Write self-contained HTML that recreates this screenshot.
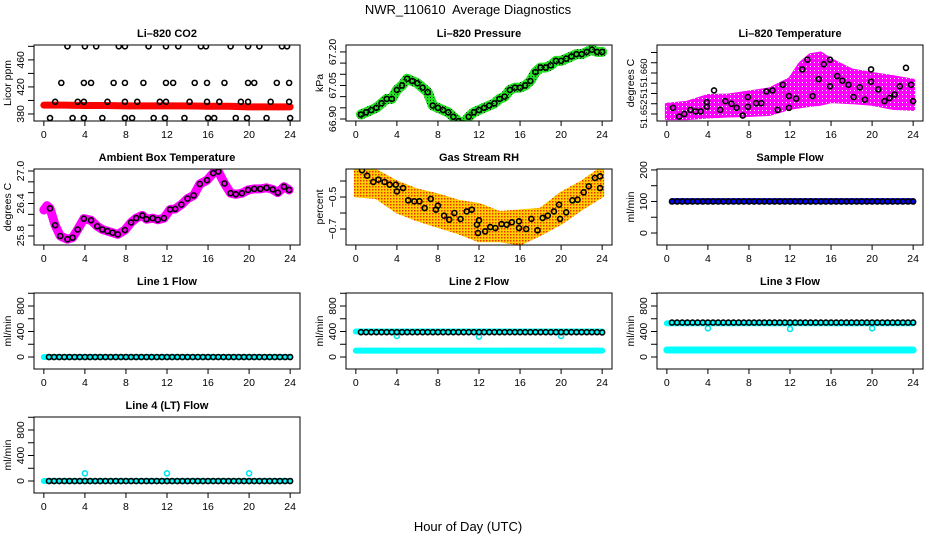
<!DOCTYPE html>
<html><head><meta charset="utf-8"><style>
html,body{margin:0;padding:0;background:#fff}
svg{display:block;font-family:"Liberation Sans",Arial,sans-serif}
</style></head><body>
<svg id="chart" width="936" height="540" viewBox="0 0 936 540" xmlns="http://www.w3.org/2000/svg">
<defs>
<pattern id="rhpat" width="3" height="3" patternUnits="userSpaceOnUse"><rect width="3" height="3" fill="#ffd000"/><rect x="0" y="0" width="1.5" height="1.5" fill="#f03000"/></pattern>
<pattern id="grpat" width="3" height="3" patternUnits="userSpaceOnUse"><rect width="3" height="3" fill="#22e022"/><rect x="1" y="1" width="1" height="1" fill="#003300"/></pattern>
<pattern id="mgpat" width="4" height="4" patternUnits="userSpaceOnUse"><rect width="4" height="4" fill="#ff00ff"/><rect x="2" y="2" width="1" height="1" fill="#ffffff"/></pattern>
</defs>
<text x="468" y="14" text-anchor="middle" font-size="13">NWR_110610&#160; Average Diagnostics</text>
<text x="468" y="531" text-anchor="middle" font-size="13">Hour of Day (UTC)</text>
</svg>
<script>
// ---- data ----
const halfHours=[0.5,1,1.5,2,2.5,3,3.5,4,4.5,5,5.5,6,6.5,7,7.5,8,8.5,9,9.5,10,10.5,11,11.5,12,12.5,13,13.5,14,14.5,15,15.5,16,16.5,17,17.5,18,18.5,19,19.5,20,20.5,21,21.5,22,22.5,23,23.5,24];
const xTicks=[0,4,8,12,16,20,24];
// CO2
const co2BandHours=[0,2,4,6,8,10,12,14,16,18,20,22,24];
const co2BandVals=[393,393,392.5,392.5,392,392,392,392,391.5,391.5,390.5,390.5,390.5];
const co2H480=[2.3,4.0,5.1,7.3,7.9,10.2,11.9,13.1,15.3,15.8,18.2,19.9,21.0,23.2,23.7];
const co2H426=[1.7,3.9,4.6,6.8,7.9,9.7,11.9,12.6,14.7,15.9,17.6,19.9,20.5,22.7,23.9];
const co2H398=[1.1,3.3,3.9,6.2,7.9,9.1,11.3,11.9,14.2,15.9,17.1,19.2,19.9,22.1,23.9];
const co2H374=[0.6,2.8,3.9,5.7,7.9,8.6,10.7,11.8,13.7,16.0,16.6,18.7,19.8,21.7,24.0];
const co2Levels=[480,426,398,374];
// Pressure
const presVals=[66.92,66.93,66.94,66.95,66.97,66.99,66.99,67.03,67.05,67.08,67.07,67.06,67.04,67.02,66.96,66.95,66.94,66.93,66.91,66.89,66.88,66.91,66.93,66.94,66.95,66.96,66.97,66.99,67.00,67.03,67.04,67.04,67.05,67.07,67.11,67.13,67.13,67.14,67.16,67.16,67.17,67.18,67.19,67.19,67.20,67.21,67.20,67.20];
// Li-820 temperature
const tempHours=[0.6,1.2,1.7,2.3,2.8,3.3,3.9,3.9,4.6,5.2,5.7,6.3,6.8,7.4,7.9,7.9,8.7,9.2,9.7,10.3,10.8,11.3,11.9,11.9,12.6,13.2,13.7,14.2,14.8,15.3,15.9,15.9,16.6,17.1,17.7,18.2,18.8,19.3,19.9,19.9,20.6,21.2,21.7,22.2,22.7,23.3,23.8,24];
const tempVals=[51.6532,51.6515,51.652,51.6528,51.6525,51.6525,51.6534,51.6543,51.6566,51.6528,51.6545,51.654,51.6532,51.6517,51.6553,51.6534,51.6541,51.6541,51.6564,51.6566,51.6528,51.6577,51.6555,51.6532,51.655,51.6607,51.6626,51.6555,51.6588,51.6617,51.6626,51.6574,51.6594,51.6585,51.6577,51.6553,51.6572,51.6548,51.6583,51.6607,51.6568,51.6545,51.6551,51.6558,51.6574,51.661,51.6577,51.6545];
const tempCloudHours=[0,2,4,6,8,10,12,13,14,15,16,18,20,22,24];
const tempCloudLo=[51.6512,51.6512,51.6515,51.6517,51.6518,51.652,51.6532,51.6535,51.6538,51.654,51.6545,51.6543,51.654,51.6532,51.653];
const tempCloudHi=[51.6538,51.6542,51.6555,51.6556,51.6562,51.6568,51.6588,51.6618,51.6635,51.6638,51.6625,51.6605,51.6598,51.6592,51.6585];
// Ambient box temperature
const ambHours=[0,0.3,0.6,1.1,1.6,2.3,2.8,3.3,3.9,4.6,5.2,5.7,6.2,6.7,7.2,7.9,8.5,9.0,9.6,10,10.6,11.1,11.7,12.3,12.8,13.4,14,14.6,15.2,15.9,16.5,17,17.6,18.2,18.7,19.3,19.9,20.5,21.1,21.7,22.3,22.8,23.4,23.9];
const ambVals=[26.28,26.36,26.31,26.0,25.8,25.74,25.77,25.92,26.12,26.09,25.98,25.92,25.89,25.86,25.83,25.91,26.05,26.13,26.18,26.11,26.13,26.1,26.13,26.29,26.3,26.38,26.49,26.55,26.76,26.83,26.96,26.99,26.77,26.59,26.57,26.59,26.65,26.67,26.67,26.69,26.66,26.6,26.71,26.65];
// Gas stream RH
const rhHours=[0.6,1.1,1.7,2.2,2.8,3.3,3.9,4.0,4.6,5.1,5.7,6.2,6.7,7.3,7.8,8,8.6,9.1,9.6,10.2,10.8,11.3,11.8,12,11.9,12.6,13.1,13.6,14.2,14.7,15.2,15.9,15.9,16.6,17.1,17.7,18.2,18.7,19.3,19.8,19.9,20.5,21.1,21.6,22.2,22.7,23.3,23.8,23.8];
const rhVals=[-0.333,-0.367,-0.406,-0.392,-0.406,-0.423,-0.423,-0.465,-0.444,-0.521,-0.527,-0.527,-0.569,-0.512,-0.579,-0.554,-0.617,-0.642,-0.6,-0.638,-0.59,-0.579,-0.673,-0.646,-0.725,-0.715,-0.688,-0.694,-0.669,-0.673,-0.658,-0.652,-0.694,-0.7,-0.637,-0.708,-0.631,-0.617,-0.59,-0.548,-0.637,-0.596,-0.521,-0.517,-0.471,-0.433,-0.381,-0.371,-0.444];
const rhCloudHours=[0,2,4,6,8,10,12,14,16,18,20,22,24];
const rhCloudLo=[-0.49,-0.5,-0.59,-0.64,-0.68,-0.72,-0.77,-0.77,-0.79,-0.73,-0.66,-0.57,-0.49];
const rhCloudHi=[-0.32,-0.34,-0.41,-0.46,-0.49,-0.53,-0.55,-0.6,-0.59,-0.58,-0.48,-0.41,-0.32];
// Flows
const sampleFlowBlack=[100,100,100,100,100,100,100,100,100,100,100,100,100,100,100,100,100,100,100,100,100,100,100,100,100,100,100,100,100,100,100,100,100,100,100,100,100,100,100,100,100,100,100,100,100,100,100,100];
const sampleFlowBlue=[101,101,101,101,101,101,101,101,101,101,101,101,101,101,101,101,101,101,101,101,101,101,101,101,101,101,101,101,101,101,101,101,101,101,101,101,101,101,101,101,101,101,101,101,101,101,101,101];
const line1Black=[0,0,0,0,0,0,0,0,0,0,0,0,0,0,0,0,0,0,0,0,0,0,0,0,0,0,0,0,0,0,0,0,0,0,0,0,0,0,0,0,0,0,0,0,0,0,0,0];
const line1Cyan=[0,0,0,0,0,0,0,0,0,0,0,0,0,0,0,0,0,0,0,0,0,0,0,0,0,0,0,0,0,0,0,0,0,0,0,0,0,0,0,0,0,0,0,0,0,0,0,0];
const line2Black=[390,390,390,390,390,390,390,390,390,390,390,390,390,390,390,390,390,390,390,390,390,390,390,390,390,390,390,390,390,390,390,390,390,390,390,390,390,390,390,390,390,390,390,390,390,390,390,385];
const line2CyanHigh=[400,400,400,400,400,400,400,400,400,400,400,400,400,400,400,400,400,400,400,400,400,400,400,400,400,400,400,400,400,400,400,400,400,400,400,400,400,400,400,400,400,400,400,400,400,400,400,400];
const line2CyanLow=[100,100,100,100,100,100,100,100,100,100,100,100,100,100,100,100,100,100,100,100,100,100,100,100,100,100,100,100,100,100,100,100,100,100,100,100,100,100,100,100,100,100,100,100,100,100,100,100];
const line3Black=[540,540,540,540,540,540,540,540,540,540,540,540,540,540,540,540,540,540,540,540,540,540,540,540,540,540,540,540,540,540,540,540,540,540,540,540,540,540,540,540,540,540,540,540,540,540,540,540];
const line3CyanHigh=[530,530,530,530,530,530,530,530,530,530,530,530,530,530,530,530,530,530,530,530,530,530,530,530,530,530,530,530,530,530,530,530,530,530,530,530,530,530,530,530,530,530,530,530,530,530,530,530];
const line3CyanLow=[110,110,110,110,110,110,110,110,110,110,110,110,110,110,110,110,110,110,110,110,110,110,110,110,110,110,110,110,110,110,110,110,110,110,110,110,110,110,110,110,110,110,110,110,110,110,110,110];
const line4Black=[0,0,0,0,0,0,0,0,0,0,0,0,0,0,0,0,0,0,0,0,0,0,0,0,0,0,0,0,0,0,0,0,0,0,0,0,0,0,0,0,0,0,0,0,0,0,0,0];
const line4Cyan=[0,0,0,0,0,0,0,0,0,0,0,0,0,0,0,0,0,0,0,0,0,0,0,0,0,0,0,0,0,0,0,0,0,0,0,0,0,0,0,0,0,0,0,0,0,0,0,0];
const outlierHours=[4,12,20];
const line2Outliers=[330,320,330];
const line3Outliers=[450,440,450];
const line4Outliers=[120,120,120];

// ---- drawing ----
const svg=document.getElementById('chart');
const NS='http://www.w3.org/2000/svg';
function mk(tag,attrs,parent){const e=document.createElementNS(NS,tag);for(const k in attrs)e.setAttribute(k,attrs[k]);(parent||svg).appendChild(e);return e;}

function panel(o){
  const g=mk('g',{});
  
  
  const L=o.x,T=o.y,W=266,H=76;
  const sx=h=>L+(h+0.96)/25.92*W;
  const sy=v=>T+(o.ymax-v)/(o.ymax-o.ymin)*H;
  const clip='clip-'+o.name;
  const cp=mk('clipPath',{id:clip},g);mk('rect',{x:L,y:T,width:W,height:H},cp);
  const plot=mk('g',{'clip-path':'url(#'+clip+')'},g);
  
  
  o.draw(plot,sx,sy);
  const box=mk('rect',{x:L,y:T,width:W,height:H,fill:'none',stroke:'#000','stroke-width':1},g);
  
  
  const title=mk('text',{x:L+W/2,y:T-8,'text-anchor':'middle','font-size':11,'font-weight':'bold'},g);
  title.textContent=o.title;
  
  
  xTicks.forEach(t=>{
    const x=sx(t);
    mk('line',{x1:x,x2:x,y1:T+H,y2:T+H+5,stroke:'#000'},g);
    const tl=mk('text',{x:x,y:T+H+17,'text-anchor':'middle','font-size':10.5},g);
    tl.textContent=t;
    
    
  });
  o.yticks.forEach(t=>{
    const y=sy(t);
    mk('line',{x1:L-6,x2:L,y1:y,y2:y,stroke:'#000'},g);
  });
  const fs=o.yfont||10.5;
  o.ylabels.forEach((t,i)=>{
    const y=sy(t);
    const yl=mk('text',{x:L-10,y:y,'text-anchor':'middle','font-size':fs,transform:'rotate(-90 '+(L-10)+' '+y+')'},g);
    yl.textContent=o.ylabelText?o.ylabelText[i]:t;
    
    
  });
  const yt=mk('text',{x:L-23,y:T+H/2,'text-anchor':'middle','font-size':10.5,transform:'rotate(-90 '+(L-23)+' '+(T+H/2)+')'},g);
  yt.textContent=o.ytitle;
  
  
}
function band(p,hs,vs,sx,sy,color,w,name){
  const pl=mk('polyline',{points:hs.map((h,i)=>sx(h)+','+sy(vs[i])).join(' '),fill:'none',stroke:color,'stroke-width':w,'stroke-linecap':'round','stroke-linejoin':'round'},p);
  
  
}
function area(p,hs,lo,hi,sx,sy,fill,name){
  const pts=hs.map((h,i)=>sx(h)+','+sy(hi[i])).concat(hs.slice().reverse().map((h,j)=>sx(h)+','+sy(lo[hs.length-1-j])));
  const pg=mk('polygon',{points:pts.join(' '),fill:fill,stroke:fill,'stroke-width':4,'stroke-linejoin':'round'},p);
  
  
}
function pts(p,hs,vs,sx,sy,color,name){
  hs.forEach((h,i)=>{
    const c=mk('circle',{cx:sx(h),cy:sy(vs[i]),r:2.5,fill:'none',stroke:color,'stroke-width':1.6},p);
    
    
  });
}
const colX=[34,346,657], rowY=[45,169,293,417];
const flowTicks=[0,200,400,600,800,1000], flowLabels=[0,400,800];

panel({name:'co2-panel',title:'Li\u2013820 CO2',x:colX[0],y:rowY[0],ymin:369.6,ymax:482,yticks:[380,400,420,440,460,480],ylabels:[380,420,460],ytitle:'Licor ppm',
  draw:(p,sx,sy)=>{band(p,co2BandHours,co2BandVals,sx,sy,'#ff0000',7,'co2-band');
    [co2H480,co2H426,co2H398,co2H374].forEach((hs,k)=>pts(p,hs,hs.map(()=>co2Levels[k]),sx,sy,'#000','co2-point'));}});
panel({name:'pressure-panel',title:'Li\u2013820 Pressure',x:colX[1],y:rowY[0],ymin:66.891,ymax:67.231,yticks:[66.90,66.95,67.00,67.05,67.10,67.15,67.20],ylabels:[66.90,67.05,67.20],ylabelText:['66.90','67.05','67.20'],ytitle:'kPa',
  draw:(p,sx,sy)=>{band(p,halfHours,presVals,sx,sy,'url(#grpat)',10,'pressure-band');pts(p,halfHours,presVals,sx,sy,'#000','pressure-point');}});
panel({name:'li820-temperature-panel',title:'Li\u2013820 Temperature',x:colX[2],y:rowY[0],ymin:51.65063,ymax:51.66546,yticks:[51.652,51.654,51.656,51.658,51.660,51.662,51.664],ylabels:[51.652,51.656,51.660],ylabelText:['51.652','51','51.660'],ytitle:'degrees C',yfont:9.5,
  draw:(p,sx,sy)=>{area(p,tempCloudHours,tempCloudLo,tempCloudHi,sx,sy,'url(#mgpat)','temperature-cloud');pts(p,tempHours,tempVals,sx,sy,'#000','temperature-point');}});
panel({name:'ambient-temperature-panel',title:'Ambient Box Temperature',x:colX[0],y:rowY[1],ymin:25.634,ymax:27.037,yticks:[25.8,26.0,26.2,26.4,26.6,26.8,27.0],ylabels:[25.8,26.4,27.0],ylabelText:['25.8','26.4','27.0'],ytitle:'degrees C',
  draw:(p,sx,sy)=>{band(p,ambHours,ambVals,sx,sy,'#ff00ff',9,'ambient-band');pts(p,ambHours.slice(2),ambVals.slice(2),sx,sy,'#000','ambient-point');}});
panel({name:'rh-panel',title:'Gas Stream RH',x:colX[1],y:rowY[1],ymin:-0.8,ymax:-0.325,yticks:[-0.4,-0.5,-0.6,-0.7],ylabels:[-0.5,-0.7],ylabelText:['\u22120.5','\u22120.7'],ytitle:'percent',
  draw:(p,sx,sy)=>{area(p,rhCloudHours,rhCloudLo,rhCloudHi,sx,sy,'url(#rhpat)','rh-cloud');pts(p,rhHours,rhVals,sx,sy,'#000','rh-point');}});
panel({name:'sample-flow-panel',title:'Sample Flow',x:colX[2],y:rowY[1],ymin:-38,ymax:203,yticks:[0,50,100,150,200],ylabels:[0,100,200],ytitle:'ml/min',
  draw:(p,sx,sy)=>{band(p,halfHours,sampleFlowBlue,sx,sy,'#0000ff',6,'sample-flow-band');pts(p,halfHours,sampleFlowBlack,sx,sy,'#000','sample-flow-point');}});
panel({name:'line1-flow-panel',title:'Line 1 Flow',x:colX[0],y:rowY[2],ymin:-188,ymax:1004,yticks:flowTicks,ylabels:flowLabels,ytitle:'ml/min',
  draw:(p,sx,sy)=>{band(p,[0].concat(halfHours),[0].concat(line1Cyan),sx,sy,'#00ffff',6,'line1-cyan');pts(p,halfHours,line1Black,sx,sy,'#000','line1-point');}});
panel({name:'line2-flow-panel',title:'Line 2 Flow',x:colX[1],y:rowY[2],ymin:-188,ymax:1004,yticks:flowTicks,ylabels:flowLabels,ytitle:'ml/min',
  draw:(p,sx,sy)=>{band(p,[0].concat(halfHours),[400].concat(line2CyanHigh),sx,sy,'#00ffff',6,'line2-cyan-high');band(p,[0].concat(halfHours),[100].concat(line2CyanLow),sx,sy,'#00ffff',6,'line2-cyan-low');
    pts(p,outlierHours,line2Outliers,sx,sy,'#00e5ee','line2-outlier');pts(p,halfHours,line2Black,sx,sy,'#000','line2-point');}});
panel({name:'line3-flow-panel',title:'Line 3 Flow',x:colX[2],y:rowY[2],ymin:-188,ymax:1004,yticks:flowTicks,ylabels:flowLabels,ytitle:'ml/min',
  draw:(p,sx,sy)=>{band(p,[0].concat(halfHours),[530].concat(line3CyanHigh),sx,sy,'#00ffff',6,'line3-cyan-high');band(p,[0].concat(halfHours),[110].concat(line3CyanLow),sx,sy,'#00ffff',7,'line3-cyan-low');
    pts(p,outlierHours,line3Outliers,sx,sy,'#00e5ee','line3-outlier');pts(p,halfHours,line3Black,sx,sy,'#000','line3-point');}});
panel({name:'line4-flow-panel',title:'Line 4 (LT) Flow',x:colX[0],y:rowY[3],ymin:-188,ymax:1004,yticks:flowTicks,ylabels:flowLabels,ytitle:'ml/min',
  draw:(p,sx,sy)=>{band(p,[0].concat(halfHours),[0].concat(line4Cyan),sx,sy,'#00ffff',6,'line4-cyan');
    pts(p,outlierHours,line4Outliers,sx,sy,'#00e5ee','line4-outlier');pts(p,halfHours,line4Black,sx,sy,'#000','line4-point');}});
</script>
</body></html>
